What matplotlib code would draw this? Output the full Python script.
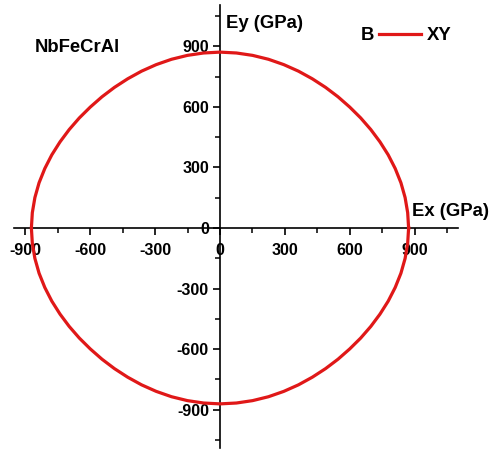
import numpy as np
import matplotlib
matplotlib.use("Agg")
import matplotlib.pyplot as plt

plt.rcParams["font.family"] = ["Liberation Sans", "DejaVu Sans"]
plt.rcParams["font.weight"] = "bold"
plt.rcParams["axes.unicode_minus"] = False

# Young's modulus in the XY plane, sampled every 5 degrees (GPa)
theta_deg = list(range(0, 360, 5))
quadrant = [872, 871, 869, 866, 862, 858, 854, 851, 849,
            848, 849, 851, 854, 858, 862, 866, 869, 871]
E_xy = quadrant * 4

major_ticks = [-900, -600, -300, 0, 300, 600, 900]
series_label = "XY"
column_label = "B"
material = "NbFeCrAl"

W, H = 502, 450
fig = plt.figure(figsize=(W / 100, H / 100), dpi=100)
ax = fig.add_axes([0, 0, 1, 1])

# pixel mapping: x = 220 + 0.2163*v, y = 228 - 0.2017*v
sx, sy = 0.2163, 0.2017
ax.set_xlim(-220 / sx, (W - 220) / sx)
ax.set_ylim(-(H - 228) / sy, 228 / sy)

th = np.deg2rad(np.array(theta_deg + [theta_deg[0]]))
r = np.array(E_xy + [E_xy[0]], dtype=float)
line, = ax.plot(r * np.cos(th), r * np.sin(th), color="#e01818", lw=2.3,
                zorder=5, solid_joinstyle="round")

for s in ["top", "right"]:
    ax.spines[s].set_visible(False)
ax.spines["left"].set_position(("data", 0))
ax.spines["bottom"].set_position(("data", 0))
ax.spines["bottom"].set_bounds(-952, 1100)
ax.spines["left"].set_bounds(-1091, 1105)
for s in ["left", "bottom"]:
    ax.spines[s].set_linewidth(1.2)
    ax.spines[s].set_zorder(4)

ax.set_xticks(major_ticks)
ax.set_yticks(major_ticks)
ax.set_xticks([v for v in np.arange(-900, 1051, 150) if v not in major_ticks], minor=True)
ax.set_yticks([v for v in np.arange(-1050, 1051, 150) if v not in major_ticks], minor=True)
ax.tick_params(which="major", length=5, width=1.2, labelsize=11.5, direction="out")
ax.tick_params(which="minor", length=3.5, width=1.1, direction="out")
ax.tick_params(axis="x", pad=6)
ax.tick_params(axis="y", pad=3)
for lab in ax.get_xticklabels() + ax.get_yticklabels():
    lab.set_fontweight("bold")

ax.patch.set_visible(False)

fs = 13.3
fig.text(35 / W, 1 - 48 / H, material, fontsize=fs, fontweight="bold",
         ha="left", va="center")
fig.text(226 / W, 1 - 23 / H, "Ey (GPa)", fontsize=fs, fontweight="bold",
         ha="left", va="center")
fig.text(412 / W, 1 - 211 / H, "Ex (GPa)", fontsize=fs, fontweight="bold",
         ha="left", va="center")

fig.text(374 / W, 1 - 36 / H, column_label, fontsize=fs, fontweight="bold",
         ha="right", va="center")
ax.legend([line], [series_label], loc="center left",
          bbox_to_anchor=(379 / W, 1 - 36 / H), bbox_transform=fig.transFigure,
          frameon=False, borderpad=0, borderaxespad=0, handlelength=2.3,
          handletextpad=0.3, prop={"size": fs, "weight": "bold"})

fig.savefig("out.png", dpi=100)
